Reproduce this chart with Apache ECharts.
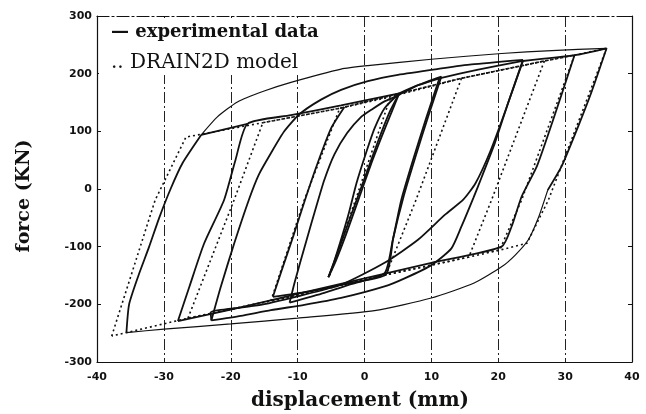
<!DOCTYPE html>
<html><head><meta charset="utf-8">
<script src="https://cdn.jsdelivr.net/npm/echarts@6/dist/echarts.min.js"></script>
<style>html,body{margin:0;padding:0;background:#fff}#c{width:646px;height:414px}</style>
</head><body><div id="c"></div>
<script>
// axis ticks
const xTicks = [-40, -30, -20, -10, 0, 10, 20, 30, 40];
const yTicks = [-300, -200, -100, 0, 100, 200, 300];

// ---- experimental data branches [displacement mm, force KN] ----
const expSmallUp = [[-5.4,-153],[-4,-110],[-2,-45],[0,18],[2,82],[3.7,132],[5.2,166]];
const expSmallDown = [[5.2,166],[3.3,112],[1.2,50],[-0.8,-15],[-2.8,-80],[-4.3,-125],[-5.4,-153]];
const expSmallReload = [[-5.4,-153],[-4.6,-128],[-3.3,-80],[-2.3,-40],[-1.2,10],[0.3,65],[1.5,105],[3,140],[5.2,166]];
const expPush11 = [[5.2,166],[8,180],[11.2,192]];
const expUnload11 = [[11.2,192],[9.2,122],[7.3,52],[5.5,-19],[4.2,-90],[3,-146],[-2,-165],[-6,-180],[-11.2,-197]];
const expReload11 = [[-11.2,-197],[-10.4,-160],[-8.7,-90],[-7.2,-30],[-6,16],[-4.5,60],[-2.6,97],[-0.5,125],[1.1,138],[3,152],[4.8,161],[8,180],[11.5,195]];
const expUnload11b = [[11.5,195],[9.5,125],[7.6,55],[5.8,-15],[4.3,-85],[3.2,-148],[-3,-165],[-8,-177],[-13.7,-187]];
const expReload14 = [[-13.7,-187],[-12.5,-145],[-10.6,-80],[-8.9,-19],[-7,45],[-5,105],[-3,142]];
const expPush24 = [[11.2,192],[17,207],[23.7,222]];
const expUnload24 = [[23.7,222],[21.5,150],[19.5,80],[17.5,20],[16.3,-15],[14.5,-65],[13,-103],[10,-132],[6,-155],[3,-169],[-3.5,-189],[-9,-201],[-14,-210],[-18.5,-220],[-22.9,-228]];
const expReload23 = [[-22.9,-228],[-21.5,-170],[-19.5,-95],[-17.3,-19],[-15.8,25],[-14,62],[-12,100],[-9.7,130],[-6.5,155],[-3.5,172],[0.5,187],[5,198],[11.5,209],[16,216],[23.7,224]];
const expUnload24b = [[23.7,224],[21.2,140],[18.8,65],[16.6,10],[14.8,-18],[12,-45],[8,-88],[3,-128],[-3.5,-166],[-10,-186],[-16,-202],[-23,-214],[-22.9,-228]];
const expUnload31 = [[31.4,232],[28.5,130],[25.8,40],[23.5,-13],[22,-65],[20.5,-100],[10,-128],[0,-155],[-10,-182],[-20,-209],[-27.9,-229]];
const expReload28 = [[-27.9,-229],[-26.2,-170],[-24,-95],[-21,-19],[-19.3,50],[-17.5,113],[-11,128],[-3.5,145],[5.2,166]];
const expReload36 = [[-35.6,-249],[-35.2,-200],[-33.8,-150],[-32.2,-100],[-30.7,-50],[-29,0],[-27.2,45],[-24.4,94]];
const expYieldLink = [[-24.4,94],[-17.5,113]];
const expTopLink = [[23.7,222],[31.4,232],[36.2,244]];
const expUnload36 = [[36.2,244],[34,170],[32,110],[29.5,40],[27.4,-2]];
const expEnvelopeTop = [[-24.4,94],[-22,125],[-19,151],[-15,170],[-11,185],[-3.5,208],[0.5,214],[10,225],[20.5,235],[28,240],[36.2,244]];
const expEnvelopeBottom = [[27.4,-2],[26,-50],[24.5,-88],[22.5,-115],[20.5,-135],[16.4,-163],[10,-189],[1.5,-211],[-10,-224],[-20,-234],[-30,-243],[-35.6,-249]];

// ---- DRAIN2D model branches ----
const modelSmall = [[-5.2,-150],[4,163]];
const modelCycle14 = [[-14,-194],[-9,-19],[-3.7,140],[4,160],[14.5,192],[7.7,-19],[3.2,-149],[-5,-171],[-14,-194]];
const modelPush27 = [[14.5,192],[26.9,222]];
const modelUnload27 = [[26.9,222],[19,-19],[15.6,-118],[3.2,-149],[-14,-194],[-26.4,-224]];
const modelReload26 = [[-26.4,-224],[-19.5,-19],[-15.2,115],[-3.7,140],[14.5,192],[26.9,222],[31.4,232]];
const modelUnload31 = [[31.4,232],[23.5,-19],[20.2,-106],[15.6,-118],[3.2,-149],[-14,-194],[-26.4,-224],[-37.8,-255]];
const modelReload38 = [[-37.8,-255],[-31.3,-19],[-26.7,90],[-15.2,115],[-3.7,140],[14.5,192],[26.9,222],[31.4,232],[36.2,244]];
const modelUnload36 = [[36.2,244],[27.5,-19],[24.3,-94],[20.2,-106],[18,-110]];

const expThick = [expSmallUp, expSmallDown, expSmallReload, expPush11, expUnload11, expReload11,
  expUnload11b, expReload14, expPush24, expUnload24, expReload23, expUnload24b, expUnload31,
  expReload28, expReload36, expYieldLink, expTopLink, expUnload36];
const expThin = [expEnvelopeTop, expEnvelopeBottom];
const modelAll = [modelSmall, modelCycle14, modelPush27, modelUnload27, modelReload26,
  modelUnload31, modelReload38, modelUnload36];

const series = [];
expThick.forEach(d => series.push({type:'line', data:d, showSymbol:false, smooth:0.2, silent:true,
  lineStyle:{color:'#111', width:1.8}}));
expThin.forEach(d => series.push({type:'line', data:d, showSymbol:false, smooth:0.2, silent:true,
  lineStyle:{color:'#111', width:1.2}}));
modelAll.forEach(d => series.push({type:'line', data:d, showSymbol:false, smooth:false, silent:true,
  lineStyle:{color:'#111', width:1.6, type:[2,3]}}));

const tickFont = {fontFamily:'DejaVu Sans', fontWeight:'bold', fontSize:11, color:'#111'};
const gridDash = {color:'#222', width:1, type:[11,3,2,3]};

const chart = echarts.init(document.getElementById('c'), null, {renderer:'canvas'});
chart.setOption({
  animation:false,
  backgroundColor:'#fff',
  grid:{left:97, right:14, top:16, bottom:52},
  xAxis:[{
    type:'value', min:xTicks[0], max:xTicks[xTicks.length-1], interval:10,
    axisLine:{show:true, onZero:false, lineStyle:{color:'#111', width:1.2}},
    axisTick:{show:false},
    axisLabel:Object.assign({margin:10}, tickFont),
    splitLine:{show:true, lineStyle:gridDash}
  },{
    type:'value', position:'top', min:xTicks[0], max:xTicks[xTicks.length-1], interval:10,
    axisLine:{show:true, onZero:false, lineStyle:{color:'#111', width:1.2, type:[12,3,2,3]}},
    axisTick:{show:false}, axisLabel:{show:false}, splitLine:{show:false}
  }],
  yAxis:[{
    type:'value', min:yTicks[0], max:yTicks[yTicks.length-1], interval:100,
    axisLine:{show:true, onZero:false, lineStyle:{color:'#111', width:1.2}},
    axisTick:{show:true, inside:true, length:4, lineStyle:{color:'#111'}},
    axisLabel:Object.assign({margin:5}, tickFont),
    splitLine:{show:false}
  },{
    type:'value', position:'right', min:yTicks[0], max:yTicks[yTicks.length-1], interval:100,
    axisLine:{show:true, onZero:false, lineStyle:{color:'#111', width:1.2}},
    axisTick:{show:true, inside:true, length:4, lineStyle:{color:'#111'}},
    axisLabel:{show:false}, splitLine:{show:false}
  }],
  series: series,
  graphic:[
    {type:'rect', z:1, shape:{x:99, y:18, width:224, height:57}, style:{fill:'#fff'}},
    {type:'text', z:100, x:111, y:32, style:{text:'— experimental data', fontFamily:'DejaVu Serif', fontWeight:'bold', fontSize:18, fill:'#111', align:'left', verticalAlign:'middle'}},
    {type:'text', z:100, x:111, y:63, style:{text:'.. DRAIN2D model', fontFamily:'DejaVu Serif', fontSize:20, fill:'#111', align:'left', verticalAlign:'middle'}},
    {type:'text', x:360, y:401, style:{text:'displacement (mm)', fontFamily:'DejaVu Serif', fontWeight:'bold', fontSize:20, fill:'#111', align:'center', verticalAlign:'middle'}},
    {type:'text', x:24, y:196, rotation:Math.PI/2, style:{text:'force (KN)', fontFamily:'DejaVu Serif', fontWeight:'bold', fontSize:19, fill:'#111', align:'center', verticalAlign:'middle'}}
  ]
});
</script></body></html>
